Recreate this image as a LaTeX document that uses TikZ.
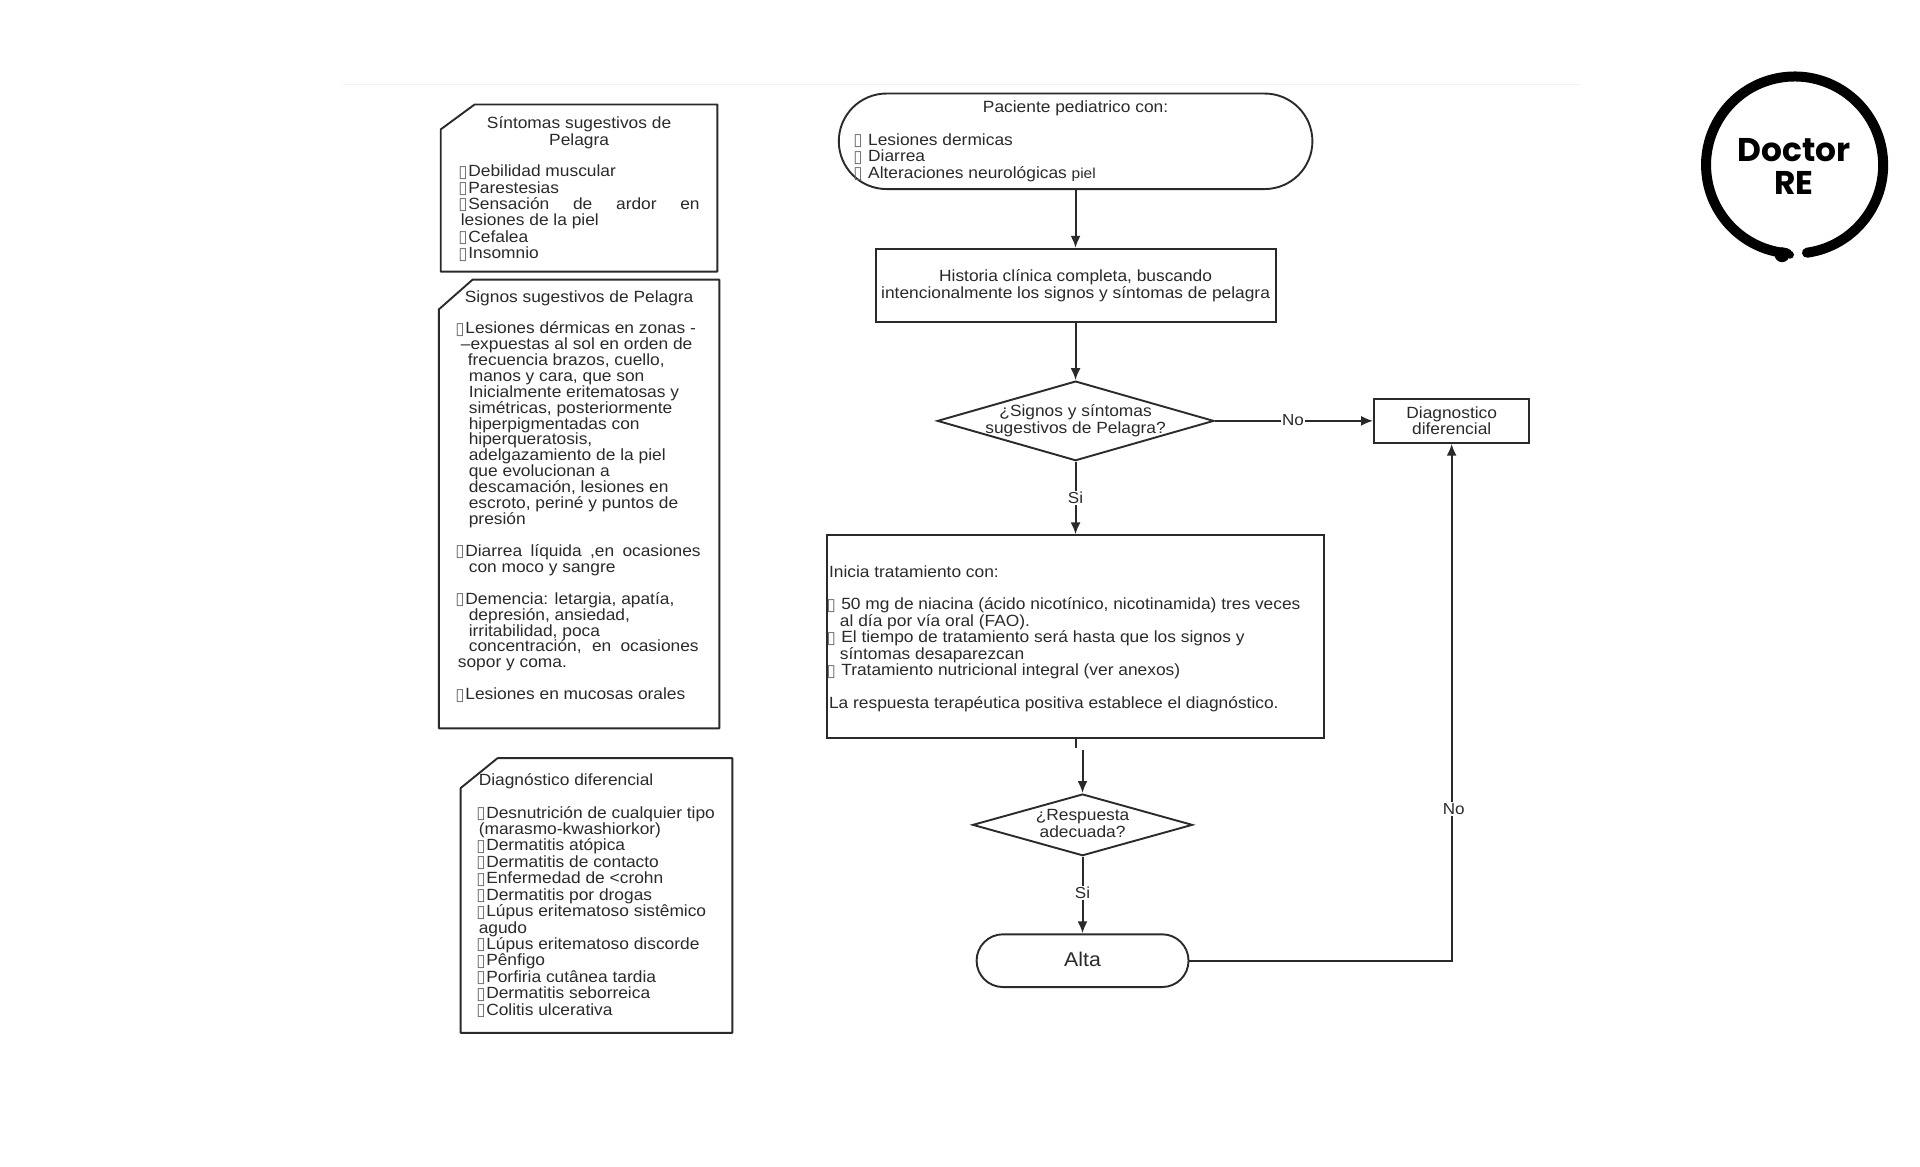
\documentclass[tikz,border=0pt]{standalone}
\usepackage{fontspec}
\setmainfont[FakeStretch=1.07]{Liberation Sans}
\newfontfamily\dejavu{DejaVu Sans}
\newfontfamily\logofont{Poppins}
\usetikzlibrary{shapes.geometric,shapes.misc,arrows.meta}
\definecolor{ink}{HTML}{2A2A2A}
\newcommand{\tf}{\makebox[7.5pt][l]{\raisebox{-0.5pt}{\dejavu\fontsize{17}{12}\selectfont\color{ink!70}\hspace{-2.5pt}▯}}}
\newcommand{\jl}[2]{\makebox[#1pt][s]{#2}}
\newcommand{\ind}[1]{\hspace*{#1pt}}
\tikzset{
  shp/.style={draw=ink,line width=1.9pt,fill=white,inner sep=0pt},
  procbox/.style={shp,rectangle},
  termbox/.style={shp,rounded rectangle,rounded rectangle arc length=180},
  txt/.style={text=ink,inner sep=0pt,align=left,anchor=north west},
  txtc/.style={text=ink,inner sep=0pt,align=center},
  lab/.style={text=ink,fill=white,inner sep=1.5pt,font=\fontsize{16}{16}\selectfont},
  conn/.style={draw=ink,line width=2pt,-{Latex[length=12pt,width=10pt]}},
  plainconn/.style={draw=ink,line width=2pt},
  cutbox/.style={draw=ink,line width=1.9pt,line join=round}
}
\newcommand{\fa}{\fontsize{16.3}{16.5}\selectfont}
\newcommand{\fb}{\fontsize{16.3}{16}\selectfont}
\begin{document}
\begin{tikzpicture}[x=1pt,y=-1pt,scale=0.995,every node/.append style={transform shape}]
\useasboundingbox (0,0) rectangle (1929.65,1171.86);
\fill[white] (0,0) rectangle (1929.65,1171.86);
\draw[black!5,line width=1pt] (345,85) -- (1588,85);

% left notes
\draw[cutbox] (443,130) -- (477,105) -- (721,105) -- (721,273) -- (443,273) -- cycle;
\draw[cutbox] (441,311) -- (475,281) -- (723,281) -- (723,732) -- (441,732) -- cycle;
\draw[cutbox] (463,792) -- (500,762) -- (736,762) -- (736,1038) -- (463,1038) -- cycle;

\node[txtc,font=\fa] (t1) at (582,133.5) {Síntomas sugestivos de\\Pelagra};
\node[txt,font=\fa] (l1) at (463,165.5) {\tf Debilidad muscular\\
\tf Parestesias\\
\jl{240}{\tf Sensación de ardor en}\\
lesiones de la piel\\
\tf Cefalea\\
\tf Insomnio};

\node[txtc,font=\fa] (t2) at (582,300) {Signos sugestivos de Pelagra};
\node[txt,font=\fb] (l2) at (460,323) {\tf Lesiones dérmicas en zonas -\\
\ind{3}--expuestas al sol en orden de\\
\ind{10}frecuencia brazos, cuello,\\
\ind{11}manos y cara, que son\\
\ind{11}Inicialmente eritematosas y\\
\ind{11}simétricas, posteriormente\\
\ind{11}hiperpigmentadas con\\
\ind{11}hiperqueratosis,\\
\ind{11}adelgazamiento de la piel\\
\ind{11}que evolucionan a\\
\ind{11}descamación, lesiones en\\
\ind{11}escroto, periné y puntos de\\
\ind{11}presión\\
\mbox{}\\
\jl{244}{\tf Diarrea líquida ,en ocasiones}\\
\ind{11}con moco y sangre\\
\mbox{}\\
\tf Demencia: letargia, apatía,\\
\ind{11}depresión, ansiedad,\\
\ind{11}irritabilidad, poca\\
\ind{11}\jl{231}{concentración, en ocasiones}\\
sopor y coma.\\
\mbox{}\\
\tf Lesiones en mucosas orales};

\node[txt,font=\fa] (t3) at (481,777) {Diagnóstico diferencial};
\node[txt,font=\fa] (l3) at (481,810) {\tf Desnutrición de cualquier tipo\\
(marasmo-kwashiorkor)\\
\tf Dermatitis atópica\\
\tf Dermatitis de contacto\\
\tf Enfermedad de <crohn\\
\tf Dermatitis por drogas\\
\tf Lúpus eritematoso sistêmico\\
agudo\\
\tf Lúpus eritematoso discorde\\
\tf Pênfigo\\
\tf Porfiria cutânea tardia\\
\tf Dermatitis seborreica\\
\tf Colitis ulcerativa};

% flow nodes
\node[termbox,minimum width=476pt,minimum height=96pt] (start) at (1081,142) {};
\node[txtc,font=\fa] (startt) at (1081,109) {Paciente pediatrico con:};
\node[txt,font=\fa] (startl) at (860,134) {\tf\ Lesiones dermicas\\
\tf\ Diarrea\\
\tf\ Alteraciones neurológicas {\fontsize{14.5}{16}\selectfont piel}};

\node[procbox,minimum width=402pt,minimum height=74pt,txtc,draw=ink,font=\fa] (hist) at (1081,287) {Historia clínica completa, buscando\\intencionalmente los signos y síntomas de pelagra};

\node[shp,diamond,minimum width=278pt,minimum height=80pt,aspect=3.47] (d1) at (1081,423) {};
\node[txtc,font=\fa] (d1t) at (1081,423) {¿Signos y síntomas\\sugestivos de Pelagra?};

\node[procbox,minimum width=156pt,minimum height=44pt,txtc,draw=ink,font=\fa] (dx) at (1459,423) {\raisebox{1pt}{Diagnostico}\\\raisebox{1pt}{diferencial}};

\node[procbox,minimum width=500pt,minimum height=204pt] (treat) at (1081,640) {};
\node[txt,font=\fa] (treatt) at (833,568) {Inicia tratamiento con:\\
\mbox{}\\
\tf\ 50 mg de niacina (ácido nicotínico, nicotinamida) tres veces\\
\ind{11}al día por vía oral (FAO).\\
\tf\ El tiempo de tratamiento será hasta que los signos y\\
\ind{11}síntomas desaparezcan\\
\tf\ Tratamiento nutricional integral (ver anexos)\\
\mbox{}\\
La respuesta terapéutica positiva establece el diagnóstico.};

\node[shp,diamond,minimum width=221pt,minimum height=62pt,aspect=3.56] (d2) at (1088,829) {};
\node[txtc,font=\fa] (d2t) at (1088,827.5) {¿Respuesta\\adecuada?};

\node[termbox,minimum width=213pt,minimum height=53pt,txtc,draw=ink,font=\fontsize{20}{20}\selectfont] (alta) at (1088,965.5) {\raisebox{2pt}{Alta}};

\coordinate (stub) at (1081,752);
\coordinate (d2in) at (1088,754);

% connectors
\draw[conn] (start.south) -- (hist.north);
\draw[conn] (hist.south) -- (d1.north);
\draw[conn] (d1.east) -- (dx.west) node[lab,midway,xshift=-1pt,yshift=1pt] (no1) {No};
\draw[conn] (d1.south) -- (treat.north) node[lab,midway] (si1) {Si};
\draw[plainconn] (treat.south) -- (stub);
\draw[conn] (d2in) -- (d2.north);
\draw[conn] (d2.south) -- (alta.north) node[lab,midway,yshift=2pt] (si2) {Si};
\draw[conn] (alta.east) -| (dx.south);
\node[lab] (no2) at (1461,813) {No};

% logo
\draw[black,line width=10pt,line cap=round] (1816,254) arc[start angle=82,end angle=-265,radius=89];
\fill[black] (1791,256) circle[radius=7.5];
\fill[black] (1799,256) circle[radius=4];
\node[inner sep=0pt,align=center,font=\logofont\bfseries\fontsize{33}{33}\selectfont] (logo) at (1803,167) {Doctor\\RE};
\end{tikzpicture}
\end{document}
